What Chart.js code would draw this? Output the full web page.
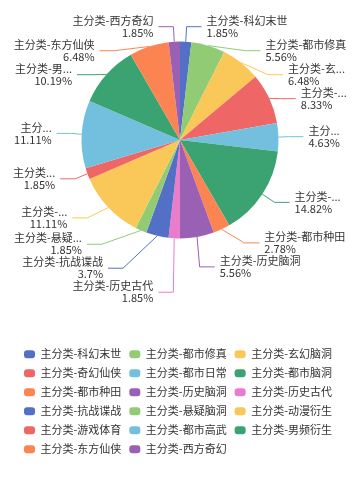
<!DOCTYPE html>
<html><head><meta charset="utf-8">
<script src="https://cdn.jsdelivr.net/npm/chart.js@4/dist/chart.umd.min.js"></script>
<style>html,body{margin:0;padding:0;background:#fff}#wrap{width:360px;height:480px}</style>
</head><body><div id="wrap"><canvas id="c" width="360" height="480"></canvas></div>
<script>
const categories = ['主分类-科幻末世','主分类-都市修真','主分类-玄幻脑洞','主分类-奇幻仙侠','主分类-都市日常','主分类-都市脑洞','主分类-都市种田','主分类-历史脑洞','主分类-历史古代','主分类-抗战谍战','主分类-悬疑脑洞','主分类-动漫衍生','主分类-游戏体育','主分类-都市高武','主分类-男频衍生','主分类-东方仙侠','主分类-西方奇幻'];
const percentages = [1.85,5.56,6.48,8.33,4.63,14.82,2.78,5.56,1.85,3.7,1.85,11.11,1.85,11.11,10.19,6.48,1.85];
const palette = ['#5470c6','#91cc75','#fac858','#ee6666','#73c0de','#3ba272','#fc8452','#9a60b4','#ea7ccc'];

const FONT = "'Noto Sans CJK SC', 'Noto Sans', sans-serif";
const TEXT = '#333';

const pieLabels = {
  id: 'pieLabels',
  afterDatasetsDraw(chart) {
    const ctx = chart.ctx;
    const arcs = chart.getDatasetMeta(0).data;
    const len1 = 15, len2 = 15, dist = 5, H = 24, bleed = 10, LH = 12;
    const W = chart.width;
    ctx.save();
    ctx.font = '11px ' + FONT;
    const items = arcs.map((arc, i) => {
      const p = arc.getProps(['x','y','startAngle','endAngle','outerRadius'], true);
      const mid = (p.startAngle + p.endAngle) / 2;
      const dx = Math.cos(mid), dy = Math.sin(mid);
      const dir = dx < 0 ? -1 : 1;
      const x2 = p.x + (p.outerRadius + len1) * dx;
      const y2 = p.y + (p.outerRadius + len1) * dy;
      return {i, cx: p.x, cy: p.y, r: p.outerRadius, dir,
        x1: p.x + p.outerRadius * dx, y1: p.y + p.outerRadius * dy,
        lx: x2 + dir * (len2 + dist), ly: y2, color: palette[i % palette.length]};
    });
    function side(list, dir) {
      if (!list.length) return;
      list.sort((a, b) => a.ly - b.ly);
      let last = 0, adjusted = false;
      for (const it of list) {
        const top = it.ly - H / 2;
        if (top < last) { it.ly += last - top; adjusted = true; }
        last = it.ly + H / 2;
      }
      if (!adjusted) return;
      const semis = [{list: [], maxY: 0, rB: 0}, {list: [], maxY: 0, rB: 0}];
      for (const it of list) {
        const semi = it.ly > it.cy ? semis[1] : semis[0];
        const dy = Math.abs(it.ly - it.cy);
        if (dy >= semi.maxY) {
          const ddx = it.lx - it.cx - len2 * dir;
          const rA = it.r + len1;
          semi.rB = Math.abs(ddx) < rA ? Math.sqrt(dy * dy / (1 - ddx * ddx / (rA * rA))) : rA;
          semi.maxY = dy;
        }
        semi.list.push(it);
      }
      for (const semi of semis) for (const it of semi.list) {
        const dy = Math.abs(it.ly - it.cy);
        const rA = it.r + len1;
        const ddx = Math.sqrt(Math.max(0, 1 - dy * dy / (semi.rB * semi.rB)) * rA * rA);
        it.lx = it.cx + (ddx + len2) * dir;
      }
    }
    side(items.filter(it => it.dir < 0), -1);
    side(items.filter(it => it.dir > 0), 1);
    const ellW = ctx.measureText('...').width;
    for (const it of items) {
      const x3 = it.lx - it.dir * dist;
      const x2 = x3 - it.dir * len2;
      ctx.strokeStyle = it.color;
      ctx.lineWidth = 1;
      ctx.beginPath();
      ctx.moveTo(it.x1, it.y1);
      ctx.lineTo(x2, it.ly);
      ctx.lineTo(x3, it.ly);
      ctx.stroke();
      let name = categories[it.i];
      const pct = percentages[it.i] + '%';
      const target = it.dir > 0 ? W - it.lx - bleed : it.lx - bleed;
      const full = Math.max(ctx.measureText(name).width, ctx.measureText(pct).width);
      if (full > target) {
        const content = target - 1 - ellW;
        while (name.length && ctx.measureText(name).width > content) name = name.slice(0, -1);
        name += '...';
      }
      ctx.fillStyle = TEXT;
      ctx.textAlign = it.dir > 0 ? 'left' : 'right';
      ctx.textBaseline = 'middle';
      ctx.fillText(name, it.lx, it.ly - LH / 2);
      ctx.fillText(pct, it.lx, it.ly + LH / 2);
    }
    ctx.restore();
  }
};

new Chart(document.getElementById('c'), {
  type: 'pie',
  data: {
    labels: categories,
    datasets: [{
      data: percentages,
      backgroundColor: categories.map((_, i) => palette[i % palette.length]),
      borderWidth: 0,
      hoverOffset: 0
    }]
  },
  options: {
    responsive: false,
    animation: false,
    devicePixelRatio: 1,
    layout: {padding: {left: 16, right: 16, top: 0, bottom: 15.2}},
    plugins: {
      title: {display: true, text: ' ', color: 'rgba(0,0,0,0)', font: {size: 10, lineHeight: 1}, padding: {top: 0, bottom: 31.5}},
      tooltip: {enabled: false},
      legend: {
        position: 'bottom',
        align: 'start',
        title: {display: true, text: ' ', color: 'rgba(0,0,0,0)', font: {size: 10, lineHeight: 1}, padding: {top: 0, bottom: 92.3}},
        labels: {
          boxWidth: 11, boxHeight: 8, padding: 8, color: TEXT,
          font: {family: FONT, size: 11},
          generateLabels: (chart) => chart.data.labels.map((t, i) => ({
            text: t, fillStyle: palette[i % palette.length], strokeStyle: 'rgba(0,0,0,0)',
            lineWidth: 0, borderRadius: 3, fontColor: TEXT,
            hidden: !chart.getDataVisibility(i), index: i
          }))
        }
      }
    }
  },
  plugins: [pieLabels]
});
</script>
</body></html>
